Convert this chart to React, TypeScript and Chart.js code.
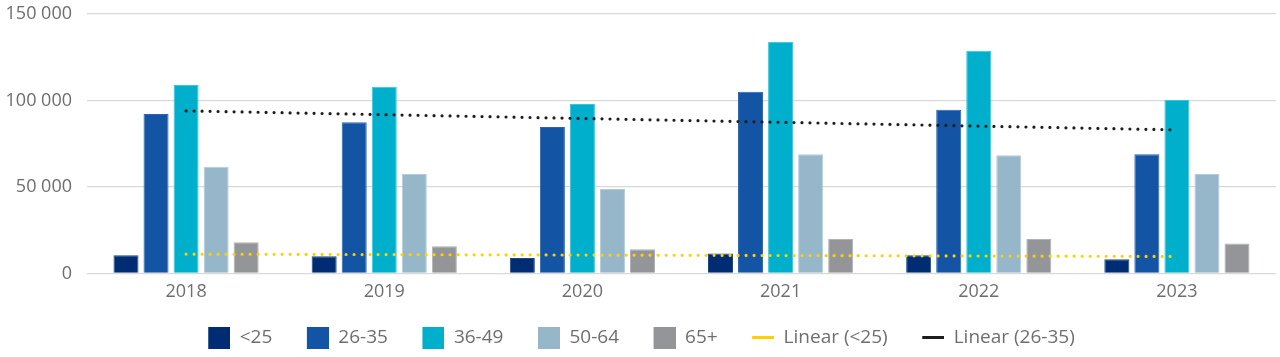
import React, { useEffect, useRef } from "react";
import { Chart, registerables } from "chart.js";

Chart.register(...registerables);

const categories = ["2018", "2019", "2020", "2021", "2022", "2023"];
const under25 = [10600, 10000, 8900, 11600, 10600, 8300];
const age26to35 = [92200, 87400, 84700, 105000, 94600, 69000];
const age36to49 = [109000, 108000, 98000, 134000, 128700, 100300];
const age50to64 = [61700, 57500, 48800, 69000, 68400, 57500];
const age65plus = [18100, 15800, 14000, 19900, 19900, 17400];
// trendline end values (start 2018, end 2023)
const trendUnder25 = [11200, null, null, null, null, 9850];
const trend26to35 = [94000, null, null, null, null, 83000];
const yTicks = [0, 50000, 100000, 150000];

const barLabels = ["<25", "26-35", "36-49", "50-64", "65+"];
const barColors = ["#002C73", "#1454A4", "#00AFCC", "#96B7CA", "#939598"];
const barBorders = ["#1E4686", "#2A63AE", "#3CC4DA", "#B3CBD9", "#B0B1B4"];
const lineLabels = ["Linear (<25)", "Linear (26-35)"];
const lineColors = ["#FFD100", "#1D1D1B"];

const TEXT = "#6D6E71";
const FONT = "'Open Sans', sans-serif";
const LEAD = 7; // transparent lead-in of each legend symbol (extra spacing between items)

function makeSwatch(color: string, w: number, h: number) {
  const c = document.createElement("canvas");
  c.width = 22 + LEAD;
  c.height = h;
  const ctx = c.getContext("2d")!;
  ctx.fillStyle = color;
  ctx.fillRect(c.width - 22, 0, w, h);
  return c;
}

export default function App() {
  const ref = useRef<HTMLCanvasElement | null>(null);

  useEffect(() => {
    if (!ref.current) return;
    const barSeries = [under25, age26to35, age36to49, age50to64, age65plus];
    const datasets: any[] = barSeries.map((d, i) => ({
      type: "bar",
      label: barLabels[i],
      data: d,
      backgroundColor: barColors[i],
      borderColor: barBorders[i],
      borderWidth: 1,
      categoryPercentage: 0.758,
      barPercentage: 0.833,
      order: 1,
    }));
    [trendUnder25, trend26to35].forEach((d, i) => {
      datasets.push({
        type: "line",
        label: lineLabels[i],
        data: d,
        borderColor: lineColors[i],
        backgroundColor: lineColors[i],
        borderWidth: 3.2,
        borderDash: [0, 8],
        borderCapStyle: "round",
        pointRadius: 0,
        spanGaps: true,
        fill: false,
        order: 0,
      });
    });

    const swatches = [
      ...barColors.map((c) => makeSwatch(c, 22, 22)),
      ...lineColors.map((c) => makeSwatch(c, 23, 3)),
    ];

    const chart = new Chart(ref.current, {
      type: "bar",
      data: { labels: categories, datasets },
      options: {
        animation: false,
        responsive: false,
        maintainAspectRatio: false,
        layout: { padding: { top: 14, right: 4, bottom: 0, left: 0 } },
        plugins: {
          tooltip: { enabled: false },
          legend: {
            position: "bottom",
            labels: {
              usePointStyle: true,
              pointStyleWidth: 22 + LEAD,
              padding: 27.5,
              color: TEXT,
              font: { family: FONT, size: 19 },
              generateLabels: (ch: any) =>
                ch.data.datasets.map((ds: any, i: number) => ({
                  text: ds.label,
                  fillStyle: "transparent",
                  strokeStyle: "transparent",
                  lineWidth: 0,
                  pointStyle: swatches[i],
                  fontColor: TEXT,
                  hidden: false,
                  datasetIndex: i,
                })),
            },
          },
        },
        scales: {
          x: {
            grid: { display: false, drawTicks: false },
            border: { display: false },
            ticks: {
              color: TEXT,
              font: { family: FONT, size: 18 },
              padding: 8,
            },
            afterFit: (s: any) => {
              s.height = 27;
            },
          },
          y: {
            min: 0,
            max: 150000,
            afterBuildTicks: (s: any) => {
              s.ticks = yTicks.map((v) => ({ value: v }));
            },
            grid: {
              color: "#D9D9D9",
              lineWidth: 1.3,
              drawTicks: true,
              tickLength: 15,
              tickColor: "rgba(0,0,0,0)",
            },
            border: { display: false },
            ticks: {
              color: TEXT,
              font: { family: FONT, size: 18 },
              padding: 0,
              callback: (v: any) =>
                String(v).replace(/\B(?=(\d{3})+(?!\d))/g, " "),
            },
            afterFit: (s: any) => {
              s.width = 87;
            },
          },
        },
      } as any,
    });
    return () => chart.destroy();
  }, []);

  return (
    <div style={{ position: "absolute", left: 0, top: 0, width: 1280, height: 357, background: "#fff" }}>
      <canvas ref={ref} width={1280} height={357} style={{ display: "block", width: 1280, height: 357 }} />
    </div>
  );
}
